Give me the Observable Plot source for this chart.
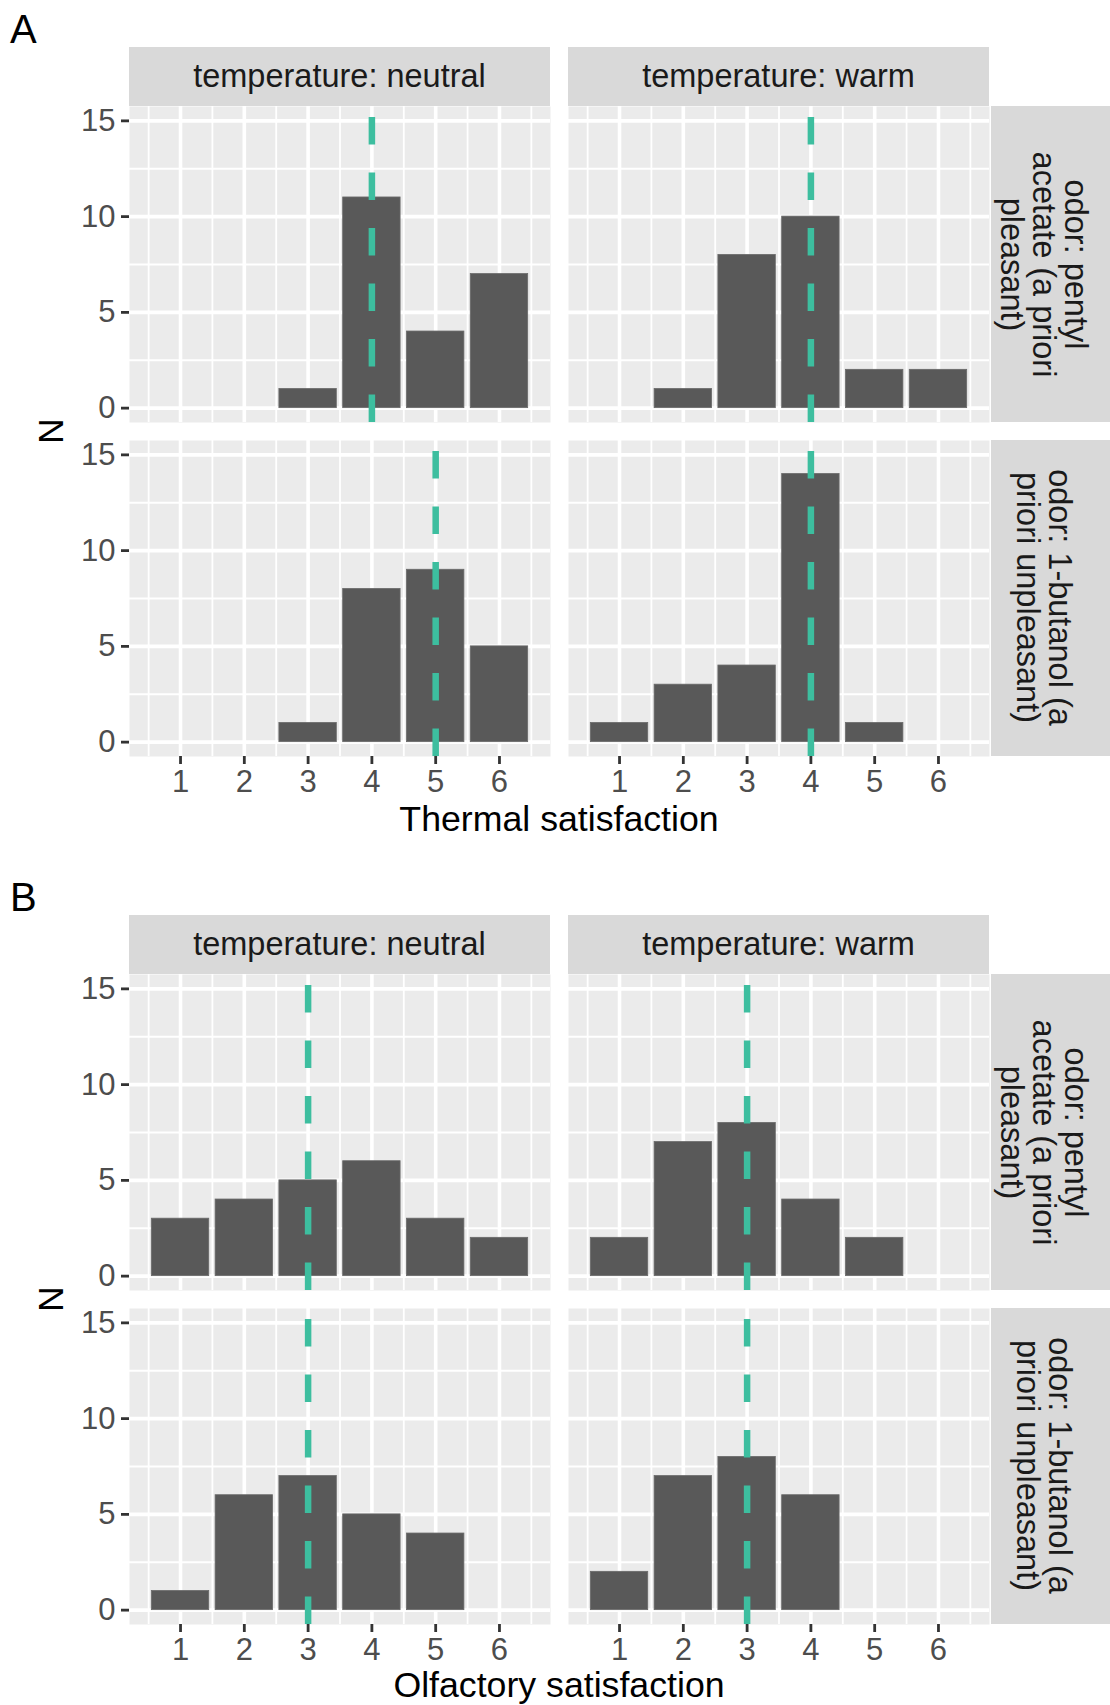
<!DOCTYPE html>
<html>
<head>
<meta charset="utf-8">
<script src="https://cdn.jsdelivr.net/npm/d3@7"></script>
<script src="https://cdn.jsdelivr.net/npm/@observablehq/plot@0.6"></script>
<style>
  html, body { margin: 0; padding: 0; background: #fff; }
  #root { position: relative; width: 1110px; height: 1705px; overflow: hidden; background: #fff;
          font-family: "Liberation Sans", Arial, Helvetica, sans-serif; }
  .abs { position: absolute; }
  .letter { font-size: 40px; color: #000; line-height: 1; }
  .stripTop { background: #D9D9D9; color: #1A1A1A; font-size: 32.5px; display: flex; align-items: center; justify-content: center; white-space: nowrap; }
  .stripRight { background: #D9D9D9; overflow: visible; }
  .stripRight .rot { position: absolute; color: #1A1A1A; font-size: 32.5px; line-height: 32px; text-align: center; white-space: nowrap;
                     display: flex; align-items: center; justify-content: center; transform: rotate(90deg); }
  .title { font-size: 35.7px; color: #000; white-space: nowrap; text-align: center; }
  .ytitle { font-size: 35.7px; color: #000; white-space: nowrap; transform: rotate(-90deg); transform-origin: center; text-align: center; }
</style>
</head>
<body>
<div id="root"></div>
<script>
// ---------------- data ----------------
const levels = [1, 2, 3, 4, 5, 6];
const temperatureLabels = ["temperature: neutral", "temperature: warm"];
const odorLabels = [
  ["odor: pentyl", "acetate (a priori", "pleasant)"],
  ["odor: 1-butanol (a", "priori unpleasant)"]
];
const yTicks = [0, 5, 10, 15];
const yMinor = [2.5, 7.5, 12.5];
const xMinor = [0.5, 1.5, 2.5, 3.5, 4.5, 5.5, 6.5];

// Panel A: thermal satisfaction counts for levels 1..6
const thermalNeutralPentyl = [0, 0, 1, 11, 4, 7];
const thermalWarmPentyl    = [0, 1, 8, 10, 2, 2];
const thermalNeutralButanol = [0, 0, 1, 8, 9, 5];
const thermalWarmButanol    = [1, 3, 4, 14, 1, 0];
const thermalMedians = [4, 4, 5, 4]; // neutral/pentyl, warm/pentyl, neutral/butanol, warm/butanol

// Panel B: olfactory satisfaction counts for levels 1..6
const olfactoryNeutralPentyl = [3, 4, 5, 6, 3, 2];
const olfactoryWarmPentyl    = [2, 7, 8, 4, 2, 0];
const olfactoryNeutralButanol = [1, 6, 7, 5, 4, 0];
const olfactoryWarmButanol    = [2, 7, 8, 6, 0, 0];
const olfactoryMedians = [3, 3, 3, 3];

const figures = [
  { letter: "A", xTitle: "Thermal satisfaction",
    counts: [thermalNeutralPentyl, thermalWarmPentyl, thermalNeutralButanol, thermalWarmButanol],
    medians: thermalMedians },
  { letter: "B", xTitle: "Olfactory satisfaction",
    counts: [olfactoryNeutralPentyl, olfactoryWarmPentyl, olfactoryNeutralButanol, olfactoryWarmButanol],
    medians: olfactoryMedians }
];

// ---------------- layout ----------------
const root = document.getElementById("root");
const PW = 421, PH = 316;
const colX = [129, 568];
const rowY = [106, 439.5];
const figOffsets = [0, 868];
const ML = 80, MB = 50;
const teal = "#3DBE9F";
const dashPeriod = 55.5, dashLen = 27.5;

function el(cls, x, y, w, h, html) {
  const d = document.createElement("div");
  d.className = "abs " + cls;
  d.style.left = x + "px"; d.style.top = y + "px";
  if (w != null) d.style.width = w + "px";
  if (h != null) d.style.height = h + "px";
  if (html != null) d.innerHTML = html;
  root.appendChild(d);
  return d;
}

function panel(counts, median, showY, showX) {
  const bars = levels.map((lv, i) => ({ level: lv, n: counts[i] })).filter(d => d.n > 0);
  const ml = showY ? ML : 0, mb = showX ? MB : 0;
  const marks = [
    Plot.frame({ fill: "#EBEBEB", stroke: null }),
    Plot.ruleX(xMinor, { stroke: "#fff", strokeWidth: 1.8 }),
    Plot.ruleY(yMinor, { stroke: "#fff", strokeWidth: 1.8 }),
    Plot.ruleX(levels, { stroke: "#fff", strokeWidth: 3.6 }),
    Plot.ruleY(yTicks, { stroke: "#fff", strokeWidth: 3.6 }),
    Plot.rectY(bars, { x1: d => d.level - 0.45, x2: d => d.level + 0.45, y: "n", fill: "#595959", stroke: "#6a6a6a", strokeWidth: 0.8 }),
    Plot.ruleX([median], { stroke: teal, strokeWidth: 6.5,
      strokeDasharray: `${dashLen},${dashPeriod - dashLen}`,
      strokeDashoffset: dashLen - (PH % dashPeriod) })
  ];
  if (showY) marks.push(Plot.axisY(yTicks, { tickSize: 8, tickPadding: 6, label: null, fontSize: 31,
      stroke: "#333333", strokeWidth: 2.8, fill: "#4D4D4D" }));
  if (showX) marks.push(Plot.axisX(levels, { tickSize: 8, tickPadding: 5, label: null, fontSize: 31,
      stroke: "#333333", strokeWidth: 2.8, fill: "#4D4D4D" }));
  return Plot.plot({
    width: PW + ml, height: PH + mb,
    marginLeft: ml, marginRight: 0, marginTop: 0, marginBottom: mb,
    x: { type: "linear", domain: [0.2, 6.8], axis: null },
    y: { type: "linear", domain: [-0.75, 15.75], axis: null },
    style: { background: "transparent", fontFamily: "'Liberation Sans', Arial, sans-serif", fontSize: "31px", color: "#4D4D4D", overflow: "visible" },
    marks
  });
}

figures.forEach((fig, fi) => {
  const oy = figOffsets[fi];
  el("letter", 10, 9 + oy, null, null, fig.letter);
  // top strips
  temperatureLabels.forEach((t, c) => {
    el("stripTop", colX[c], 47 + oy, PW, 59, t);
  });
  // right strips
  odorLabels.forEach((lines, r) => {
    const sx = 990.5, sw = 1110 - 990.5;
    const textCenter = 1044 - sx;   // text block centre inside the strip
    const th = 2 * textCenter;
    const s = el("stripRight", sx, rowY[r] + oy, sw, PH);
    const rot = document.createElement("div");
    rot.className = "rot";
    rot.style.width = PH + "px"; rot.style.height = th + "px";
    rot.style.left = (textCenter - PH / 2) + "px"; rot.style.top = (PH - th) / 2 + "px";
    rot.innerHTML = "<div>" + lines.join("<br>") + "</div>";
    s.appendChild(rot);
  });
  // panels
  for (let r = 0; r < 2; r++) {
    for (let c = 0; c < 2; c++) {
      const idx = r * 2 + c;
      const showY = c === 0, showX = r === 1;
      const svg = panel(fig.counts[idx], fig.medians[idx], showY, showX);
      const holder = el("", colX[c] - (showY ? ML : 0), rowY[r] + oy, null, null);
      holder.appendChild(svg);
    }
  }
  // x title
  el("title", colX[0], 799 + oy - (fi === 1 ? 2 : 0), colX[1] + PW - colX[0], 40, fig.xTitle);
  // y title
  const yt = el("ytitle", 51 - 40, (rowY[0] + rowY[1] + PH) / 2 - 20 + oy, 80, 40, "N");
  yt.style.lineHeight = "40px";
});
</script>
</body>
</html>
